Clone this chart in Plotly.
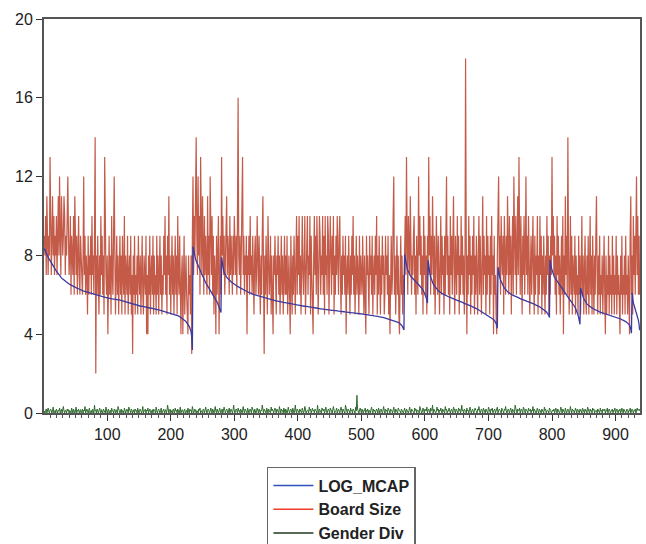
import plotly.graph_objects as go

# ---------------- data ----------------
board_size = [
9,8,10,7,11,8,7,9,8,13,10,7,9,11,8,10,7,9,8,10,
7,9,11,8,12,9,7,11,10,8,9,11,10,7,9,8,10,12,9,7,
8,10,6,9,8,7,10,6,11,8,7,9,6,8,10,7,6,9,8,7,
6,8,12,7,9,6,8,7,5,9,6,8,7,9,6,10,7,8,6,9,
14,2,8,6,9,7,5,8,6,10,7,9,6,8,5,13,9,7,6,8,
4,7,9,6,8,5,10,7,6,9,12,8,5,7,9,6,8,5,7,9,
6,8,5,9,7,6,10,5,8,7,6,9,5,7,8,6,9,5,7,3,
8,6,9,5,7,6,8,5,9,7,6,8,5,7,9,6,5,8,7,6,
9,4,7,4,8,6,9,5,7,8,6,9,5,8,6,7,5,9,6,8,
5,7,9,6,8,5,7,6,9,7,10,6,8,5,9,7,11,6,8,5,
7,9,6,8,5,7,9,6,8,5,10,7,6,9,5,4,7,8,4,6,
9,5,7,8,6,5,4,8,6,7,5,8,3,9,12,7,10,8,11,14,
9,7,12,8,10,6,13,9,7,11,8,6,10,7,9,8,6,11,7,9,
6,12,8,7,10,6,9,5,8,7,4,9,6,8,10,4,7,9,6,13,
8,10,7,9,6,8,10,11,7,9,8,6,10,7,9,8,6,9,7,10,
8,7,9,6,10,16,8,7,9,6,8,10,13,7,9,6,8,7,9,4,
8,7,9,6,10,7,8,6,9,7,5,8,9,6,7,10,8,6,9,7,
5,8,6,9,11,7,3,8,6,9,7,5,10,8,6,7,9,5,8,6,
4,8,7,9,6,5,8,7,9,6,8,5,7,9,6,8,5,7,9,6,
8,6,9,5,7,8,6,4,9,7,5,8,6,9,7,5,8,10,6,9,
7,10,6,8,5,9,10,7,6,8,10,5,7,9,10,6,8,7,10,5,
9,7,6,4,8,10,7,9,6,10,8,5,7,10,9,6,8,7,10,6,
9,5,10,7,8,6,10,9,5,7,10,8,6,9,7,10,5,8,6,9,
7,10,8,6,9,10,7,5,8,6,9,7,8,6,9,4,7,8,6,9,
7,5,8,6,9,7,10,6,8,5,7,9,6,8,7,5,9,6,8,7,
6,9,7,5,8,6,4,9,7,8,6,5,9,7,8,6,9,5,7,8,
6,9,7,10,5,8,6,9,7,5,8,6,9,7,8,5,6,9,7,8,
6,9,5,7,4,8,9,6,7,10,12,6,8,5,7,9,6,8,5,4,
7,9,6,8,5,7,6,8,10,7,13,9,6,10,8,7,11,9,6,8,
7,9,10,6,8,5,9,7,6,12,8,10,7,9,6,8,5,10,7,9,
6,8,5,9,7,13,8,10,6,9,7,11,8,6,9,5,7,10,8,6,
9,7,5,8,10,6,9,7,8,5,9,6,10,12,7,9,6,8,5,10,
7,9,6,8,11,7,5,9,8,6,10,7,9,5,8,6,10,7,9,6,
8,5,7,18,9,4,8,6,10,7,9,5,8,6,9,7,10,5,8,6,
9,7,5,8,10,6,9,7,5,8,11,6,9,7,8,5,10,6,9,7,
8,5,9,6,10,7,8,4,9,6,7,5,4,8,10,12,7,9,6,10,
8,7,9,5,10,8,6,9,7,11,8,6,10,7,9,5,8,10,6,12,
9,7,10,6,8,11,7,13,9,6,10,8,5,9,7,10,6,8,12,7,
9,6,10,8,5,7,9,6,8,10,7,5,9,6,8,7,10,5,8,6,
10,7,9,5,8,6,9,7,5,8,6,10,7,9,5,8,6,9,7,13,
8,10,7,9,6,8,5,10,7,9,6,8,5,7,9,6,10,4,8,6,
11,7,9,6,14,8,5,7,10,6,9,5,8,7,6,9,5,8,6,7,
5,9,6,8,5,7,10,6,8,5,7,9,6,5,8,6,9,5,7,10,
6,8,5,9,7,5,8,6,9,11,7,5,8,6,9,5,7,6,8,5,
7,9,6,4,8,5,7,6,9,5,8,6,7,5,9,6,8,5,7,6,
9,5,8,6,7,5,4,8,6,9,5,7,6,8,5,9,6,7,5,8,
6,4,9,11,6,8,5,10,7,9,6,8,12,7,10,6,9,6,
]

log_mcap = [
8.35,8.26,8.18,8.11,8.04,7.98,7.91,7.85,7.79,7.72,
7.67,7.61,7.56,7.50,7.45,7.40,7.35,7.30,7.25,7.20,
7.15,7.10,7.05,7.00,6.95,6.92,6.89,6.86,6.83,6.80,
6.77,6.74,6.71,6.68,6.65,6.63,6.61,6.59,6.57,6.55,
6.53,6.51,6.49,6.47,6.45,6.44,6.42,6.41,6.39,6.38,
6.36,6.35,6.33,6.32,6.30,6.29,6.27,6.26,6.24,6.23,
6.22,6.20,6.19,6.18,6.16,6.15,6.14,6.13,6.11,6.10,
6.09,6.08,6.07,6.06,6.05,6.04,6.03,6.02,6.01,6.00,
5.99,5.98,5.97,5.96,5.95,5.94,5.93,5.92,5.92,5.91,
5.90,5.89,5.89,5.88,5.87,5.87,5.86,5.85,5.85,5.84,
5.83,5.83,5.82,5.82,5.81,5.80,5.80,5.79,5.79,5.78,
5.78,5.77,5.77,5.76,5.76,5.75,5.75,5.74,5.74,5.73,
5.71,5.70,5.69,5.68,5.67,5.66,5.65,5.64,5.63,5.62,
5.61,5.60,5.59,5.58,5.57,5.56,5.55,5.54,5.53,5.52,
5.51,5.50,5.49,5.49,5.48,5.47,5.46,5.46,5.45,5.44,
5.44,5.43,5.42,5.42,5.41,5.40,5.40,5.39,5.38,5.38,
5.37,5.36,5.36,5.35,5.34,5.34,5.33,5.33,5.32,5.31,
5.31,5.30,5.29,5.29,5.28,5.27,5.27,5.26,5.25,5.25,
5.24,5.23,5.22,5.22,5.21,5.20,5.19,5.18,5.18,5.17,
5.16,5.15,5.14,5.14,5.13,5.12,5.11,5.10,5.09,5.08,
5.07,5.06,5.05,5.04,5.03,5.02,5.01,4.99,4.98,4.96,
4.95,4.93,4.91,4.89,4.87,4.85,4.83,4.81,4.78,4.76,
4.73,4.70,4.67,4.64,4.60,4.56,4.51,4.46,4.40,4.33,
4.25,4.12,3.85,3.20,
8.45,8.25,8.08,7.94,7.82,7.72,7.63,7.55,7.47,7.40,
7.33,7.26,7.19,7.11,7.03,6.95,6.87,6.80,6.72,6.65,
6.60,6.55,6.50,6.45,6.40,6.35,6.30,6.25,6.20,6.15,
6.10,6.05,6.00,5.94,5.88,5.82,5.76,5.70,5.63,5.56,
5.48,5.40,5.30,5.20,5.10,
7.90,7.62,7.42,7.27,7.16,7.07,7.00,6.94,6.89,6.85,
6.81,6.78,6.75,6.72,6.69,6.66,6.63,6.61,6.58,6.56,
6.54,6.52,6.49,6.47,6.45,6.43,6.41,6.39,6.37,6.35,
6.33,6.31,6.29,6.28,6.26,6.24,6.23,6.21,6.19,6.18,
6.16,6.15,6.13,6.12,6.10,6.09,6.07,6.06,6.05,6.03,
6.02,6.01,6.00,5.99,5.98,5.97,5.96,5.95,5.94,5.93,
5.92,5.91,5.90,5.89,5.88,5.87,5.86,5.85,5.84,5.83,
5.82,5.81,5.80,5.79,5.78,5.78,5.77,5.76,5.75,5.74,
5.73,5.73,5.72,5.71,5.70,5.70,5.69,5.68,5.68,5.67,
5.66,5.66,5.65,5.64,5.64,5.63,5.62,5.62,5.61,5.60,
5.60,5.59,5.59,5.58,5.58,5.57,5.56,5.56,5.55,5.55,
5.54,5.54,5.53,5.52,5.52,5.51,5.51,5.50,5.49,5.49,
5.48,5.48,5.47,5.46,5.46,5.45,5.45,5.44,5.43,5.43,
5.42,5.42,5.41,5.41,5.40,5.40,5.39,5.39,5.38,5.38,
5.37,5.37,5.36,5.36,5.35,5.35,5.34,5.34,5.33,5.33,
5.32,5.32,5.31,5.31,5.30,5.30,5.29,5.29,5.28,5.28,
5.27,5.27,5.26,5.26,5.26,5.25,5.25,5.24,5.24,5.23,
5.23,5.23,5.22,5.22,5.21,5.21,5.21,5.20,5.20,5.19,
5.19,5.19,5.18,5.18,5.17,5.17,5.17,5.16,5.16,5.15,
5.15,5.15,5.14,5.14,5.13,5.13,5.13,5.12,5.12,5.11,
5.11,5.11,5.10,5.10,5.09,5.09,5.09,5.08,5.08,5.07,
5.07,5.07,5.06,5.06,5.05,5.05,5.05,5.04,5.04,5.03,
5.03,5.02,5.02,5.02,5.01,5.01,5.00,5.00,4.99,4.99,
4.98,4.98,4.97,4.97,4.96,4.96,4.95,4.95,4.94,4.94,
4.93,4.93,4.92,4.92,4.91,4.91,4.90,4.89,4.89,4.88,
4.88,4.87,4.86,4.86,4.85,4.84,4.84,4.83,4.82,4.81,
4.81,4.80,4.79,4.78,4.77,4.76,4.75,4.74,4.73,4.72,
4.71,4.70,4.69,4.68,4.66,4.65,4.63,4.62,4.60,4.58,
4.56,4.53,4.50,4.47,4.43,4.38,4.32,4.22,
8.05,7.82,7.62,7.46,7.34,7.24,7.15,7.08,7.02,6.97,
6.93,6.89,6.85,6.81,6.77,6.74,6.70,6.67,6.64,6.61,
6.58,6.55,6.52,6.49,6.46,6.42,6.38,6.34,6.29,6.24,
6.18,6.11,6.03,5.94,5.84,5.72,5.58,
7.75,7.45,7.22,7.04,6.90,6.79,6.70,6.62,6.55,6.49,
6.44,6.39,6.35,6.31,6.27,6.24,6.21,6.18,6.15,6.13,
6.11,6.09,6.07,6.05,6.03,6.01,5.99,5.98,5.96,5.95,
5.93,5.92,5.90,5.89,5.88,5.86,5.85,5.84,5.82,5.81,
5.80,5.78,5.77,5.76,5.74,5.73,5.72,5.70,5.69,5.68,
5.66,5.65,5.64,5.62,5.61,5.60,5.58,5.57,5.56,5.54,
5.53,5.52,5.50,5.49,5.48,5.46,5.45,5.44,5.42,5.41,
5.39,5.38,5.36,5.35,5.33,5.32,5.30,5.29,5.27,5.25,
5.24,5.22,5.20,5.19,5.17,5.15,5.13,5.11,5.09,5.07,
5.05,5.03,5.01,4.99,4.97,4.95,4.93,4.91,4.89,4.86,
4.84,4.81,4.78,4.75,4.71,4.67,4.62,4.55,4.45,4.30,
7.40,7.15,6.98,6.85,6.75,6.66,6.58,6.51,6.45,6.40,
6.35,6.30,6.26,6.22,6.19,6.16,6.13,6.10,6.08,6.06,
6.04,6.02,6.00,5.98,5.97,5.95,5.94,5.92,5.91,5.89,
5.88,5.86,5.85,5.84,5.82,5.81,5.80,5.78,5.77,5.76,
5.74,5.73,5.72,5.70,5.69,5.68,5.67,5.65,5.64,5.63,
5.61,5.60,5.59,5.57,5.56,5.55,5.53,5.52,5.51,5.49,
5.48,5.46,5.45,5.43,5.42,5.40,5.38,5.36,5.34,5.32,
5.30,5.28,5.26,5.23,5.20,5.17,5.14,5.10,5.06,5.01,4.95,4.85,
7.78,7.55,7.38,7.24,7.13,7.04,6.96,6.89,6.83,6.79,
6.75,6.70,6.65,6.60,6.55,6.50,6.45,6.40,6.35,6.30,
6.25,6.20,6.15,6.10,6.05,6.00,5.95,5.91,5.87,5.83,
5.79,5.75,5.71,5.67,5.63,5.59,5.54,5.49,5.44,5.38,
5.32,5.25,5.17,5.08,4.97,4.84,4.68,4.50,
6.35,6.20,6.08,5.98,5.89,5.81,5.74,5.68,5.63,5.58,
5.54,5.50,5.47,5.44,5.41,5.39,5.37,5.35,5.33,5.31,
5.29,5.27,5.26,5.24,5.22,5.21,5.19,5.18,5.16,5.15,
5.13,5.12,5.11,5.09,5.08,5.07,5.06,5.05,5.04,5.03,
5.02,5.01,5.00,4.99,4.98,4.97,4.96,4.95,4.94,4.93,
4.92,4.91,4.90,4.89,4.88,4.87,4.86,4.85,4.83,4.82,
4.81,4.80,4.78,4.77,4.76,4.74,4.73,4.71,4.70,4.68,
4.66,4.64,4.62,4.60,4.57,4.54,4.50,4.45,4.38,4.25,4.05,
6.10,5.80,5.60,5.45,5.35,5.25,5.15,5.05,4.95,4.85,4.70,4.50,4.20,
]

gender_div = [
.1,0,.13,.2,0,.11,.25,.1,0,.14,.2,.1,0,.17,.3,0,.1,.13,0,.2,
.11,0,.14,.1,.25,0,.1,.2,0,.13,.33,.1,0,.14,.11,0,.2,.1,.17,0,
.13,.1,0,.25,.11,0,.2,.14,0,.1,.3,0,.13,.1,.2,0,.11,.17,0,.1,
.2,0,.14,.1,.33,0,.11,.2,.1,0,.14,.25,0,.1,.13,0,.2,.11,0,.4,
.1,.14,0,.2,.11,0,.1,.25,.13,0,.17,.1,0,.2,.14,.11,0,.3,.1,0,
.13,.2,0,.1,.14,0,.25,.11,.1,0,.2,.13,0,.17,.1,0,.33,.14,.1,0,
.11,.2,0,.13,.1,0,.25,.14,0,.1,.2,.11,0,.3,.13,.1,0,.2,.14,0,
.1,.17,0,.2,.11,.13,0,.25,.1,0,.14,.2,.1,0,.11,.33,0,.13,.1,.2,
0,.14,.1,.25,0,.11,.2,.13,0,.1,.17,0,.2,.14,.1,0,.3,.11,0,.13,
.2,.1,0,.14,.25,0,.11,.1,.2,0,.13,.17,0,.1,.4,.11,0,.14,.2,0,
.1,.13,0,.2,.11,0,.25,.1,.14,0,.2,.13,0,.1,.3,0,.11,.17,.1,0,
.14,.2,0,.1,.13,0,.25,.11,0,.2,.1,.14,0,.33,.13,0,.1,.2,.11,0,
.13,.1,0,.2,.14,.25,0,.11,.1,0,.2,.17,0,.13,.3,.1,0,.14,.2,.11,
0,.1,.25,.13,0,.2,.11,0,.14,.33,.1,0,.2,.13,0,.11,.25,.1,0,.14,
.2,0,.1,.3,.13,0,.11,.2,.14,0,.1,.25,0,.17,.2,.11,0,.13,.4,.1,
0,.14,.2,.11,0,.25,.1,.13,0,.2,.14,0,.1,.33,.11,0,.2,.13,.1,0,
.25,.11,0,.14,.2,.1,0,.3,.13,.11,0,.2,.14,0,.1,.25,.13,0,.2,.11,
0,.14,.1,.4,.13,0,.2,.11,.1,0,.25,.14,0,.2,.13,.1,0,.3,.11,.2,
.1,0,.14,.25,.13,0,.2,.1,.11,0,.33,.14,0,.2,.1,.13,0,.25,.11,0,
.2,.14,0,.1,.3,.11,0,.13,.2,.1,0,.25,.14,0,.11,.4,.1,0,.2,.13,
.1,0,.2,.14,.11,0,.25,.13,0,.1,.33,.2,0,.11,.14,.1,0,.3,.13,.2,
0,.11,.25,.1,.14,0,.2,.13,.1,0,.4,.11,0,.2,.14,.1,0,.25,.13,.1,
.2,0,.11,.3,.14,0,.1,.2,.13,0,.25,.11,.1,0,.2,.33,.14,0,.1,.13,
.25,0,.11,.2,.1,0,.14,.3,.13,0,.2,.11,.1,0,.4,.14,.1,0,.2,.13,
.11,0,.25,.1,.14,0,.2,.13,.1,0,.3,.11,.9,.2,.14,0,.1,.25,.13,0,
.2,.1,0,.14,.11,.25,0,.13,.1,.2,0,.14,.11,0,.1,.3,.13,0,.2,.1,
.14,0,.11,.2,.1,0,.25,.13,0,.14,.2,.1,0,.11,.33,.13,0,.2,.1,.14,
0,.25,.11,.1,0,.2,.14,.13,0,.1,.3,.11,0,.2,.14,.1,0,.25,.13,.11,
.1,0,.2,.14,.13,0,.11,.25,.1,0,.2,.14,.11,0,.13,.3,.1,0,.2,.14,
.11,.1,0,.25,.13,.2,0,.14,.1,.11,0,.33,.2,.13,0,.1,.25,.14,0,.2,
.13,.1,.3,0,.14,.2,.11,0,.25,.1,.13,.4,0,.2,.14,.11,0,.1,.3,.13,
.2,0,.14,.1,.25,.11,0,.2,.13,.1,0,.33,.14,.2,0,.11,.1,.25,.13,0,
.14,.2,.1,0,.3,.13,.11,0,.2,.14,.1,0,.25,.13,.2,0,.11,.4,.1,.14,
0,.2,.13,.11,0,.25,.1,.14,0,.2,.3,.13,0,.11,.2,.1,0,.14,.25,.13,
.1,0,.2,.14,.33,.11,0,.13,.2,.1,0,.25,.14,.11,0,.2,.13,.1,0,.3,
.14,.11,0,.2,.13,.25,0,.1,.14,.2,0,.11,.13,.3,0,.1,.2,.14,.11,0,
.25,.13,.1,0,.2,.14,.33,.11,0,.1,.2,.13,0,.14,.25,.1,0,.2,.11,.13,
0,.4,.14,.1,0,.2,.13,.11,.25,0,.14,.2,.1,0,.3,.13,.11,0,.2,.14,
.1,0,.25,.13,.11,.2,0,.14,.1,.33,0,.2,.13,.11,0,.14,.25,.1,0,.2,
.13,.11,0,.2,.14,.1,0,.3,.13,.2,0,.11,.14,.1,0,.25,.2,.13,0,.11,
.14,.1,.2,0,.13,.25,.11,0,.2,.14,.1,0,.13,.3,.11,0,.2,.14,.1,0,
.25,.13,0,.11,.2,.14,0,.1,.33,.13,0,.2,.11,.14,0,.1,.25,.13,0,.2,
.14,.11,0,.2,.1,.13,0,.25,.14,.11,0,.2,.1,.13,0,.3,.14,.11,0,.2,
.1,.13,0,.25,.14,.2,0,.11,.1,.13,0,.2,.14,.11,0,.25,.1,.13,0,.2,
.14,.11,.2,0,.13,.1,.25,0,.14,.2,.11,0,.1,.13,.2,0,.14,.11,.25,0,
.1,.2,.13,0,.14,.11,.2,0,.1,.25,.13,0,.2,.14,.11,0,.1,.2,.13,0,
.14,.11,.25,0,.1,.2,.13,0,.14,.11,.2,0,.1,.25,.13,.14,.2,.11,
]

series_names = ["LOG_MCAP", "Board Size", "Gender Div"]
y_ticks = [0, 4, 8, 12, 16, 20]
x_ticks = [100, 200, 300, 400, 500, 600, 700, 800, 900]

# ---------------- figure ----------------
FONT = "Liberation Sans, Arial, sans-serif"
col_blue = "#3a3aa0"
col_red = "#f03a2a"
col_red_plot = "#c45a48"
col_green = "#2f6b2f"
col_green_leg = "#203a20"

fig = go.Figure()

def xs(v):
    return list(range(1, len(v) + 1))

fig.add_trace(go.Scatter(x=xs(board_size), y=board_size, mode="lines",
                         line=dict(color=col_red_plot, width=1.2),
                         showlegend=False, hoverinfo="skip"))
fig.add_trace(go.Scatter(x=xs(log_mcap), y=log_mcap, mode="lines",
                         line=dict(color=col_blue, width=1.3),
                         showlegend=False, hoverinfo="skip"))
fig.add_trace(go.Scatter(x=xs(gender_div), y=gender_div, mode="lines",
                         line=dict(color=col_green, width=1),
                         showlegend=False, hoverinfo="skip"))

# legend entries
for name, c in zip(series_names, ["#3050c0", col_red, col_green_leg]):
    fig.add_trace(go.Scatter(x=[None], y=[None], mode="lines", name=name,
                             line=dict(color=c, width=1.5)))

fig.update_layout(
    width=646, height=544,
    margin=dict(l=44, r=6, t=19, b=131, autoexpand=False),
    paper_bgcolor="white", plot_bgcolor="white",
    font=dict(family=FONT, size=16, color="#222"),
    legend=dict(x=0.374, y=-0.137, xanchor="left", yanchor="top",
                bgcolor="white", bordercolor="#666", borderwidth=1.5,
                font=dict(family=FONT, size=16, color="#222", weight="bold"),
                itemwidth=40, tracegroupgap=0),
)
fig.update_xaxes(range=[0.5, 938.5], tickvals=x_ticks, ticks="outside",
                 ticklen=6, tickcolor="#333", showgrid=False, zeroline=False,
                 showline=True, linecolor="#555", linewidth=2, mirror=True,
                 tickfont=dict(size=16, color="#222"),
                 minor=dict(dtick=10, tick0=0, ticks="outside", ticklen=3,
                            tickcolor="#555", showgrid=False))
fig.update_yaxes(range=[0, 20], tickvals=y_ticks, ticks="outside",
                 ticklen=6, tickcolor="#333", showgrid=False, zeroline=False,
                 showline=True, linecolor="#555", linewidth=2, mirror=True,
                 tickfont=dict(size=16, color="#222"))

fig.write_html("out.html")
